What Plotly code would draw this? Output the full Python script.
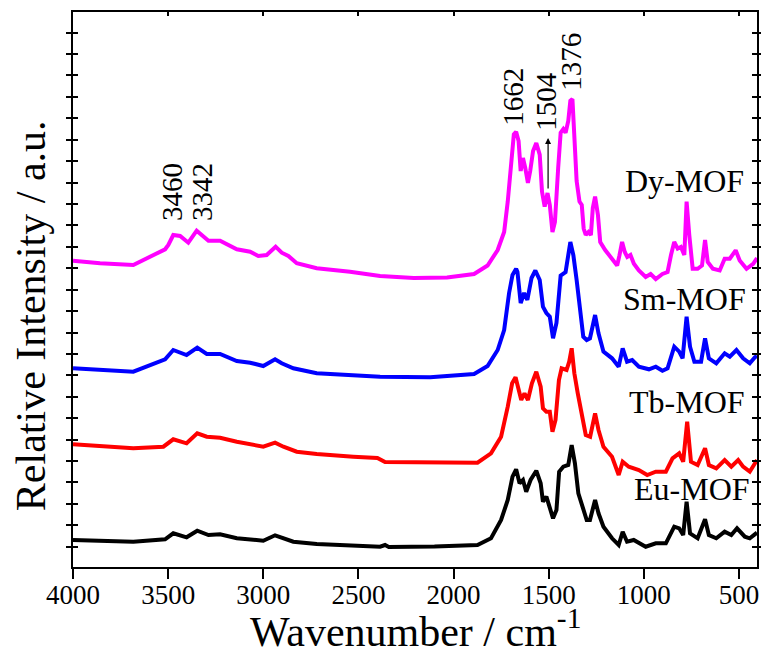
import plotly.graph_objects as go

# ---------------- data ----------------
eu_w = [4000, 3683, 3516, 3473, 3403, 3347, 3288, 3227, 3139, 3000, 2938, 2842, 2719, 2386, 2360, 2340, 2100,
        1874, 1803, 1750, 1715, 1690, 1671, 1653, 1635, 1618, 1595, 1565, 1542, 1530, 1512, 1494, 1477,
        1459, 1445, 1423, 1397, 1379, 1362, 1344, 1318, 1300, 1283, 1256, 1238, 1212, 1167, 1132, 1111,
        1088, 1053, 990, 937, 884, 840, 814, 793, 775, 757, 717, 678, 658, 619, 575, 540, 510, 469, 443, 405]
eu_v = [27, 25.3, 27.7, 33.7, 29.7, 36.3, 32, 32.7, 28.7, 26.3, 31.7, 25.3, 23, 20.3, 22, 20, 20.5,
        22, 28.7, 47, 67, 90.3, 97.7, 83.7, 87, 75.3, 87, 96.3, 83.7, 65.3, 70.3, 60.3, 48.7,
        57, 95.3, 100.3, 102, 122, 103.7, 73.7, 57, 47, 47, 67, 53.7, 40.3, 28.7, 22, 35.3,
        25.3, 27, 20.3, 23.7, 23.7, 40.3, 38.7, 32, 65.3, 33.7, 28.7, 47.7, 32, 28.7, 35.3, 32, 38.7, 30.3, 28.7, 34.3]

tb_w = [4000, 3683, 3525, 3473, 3403, 3347, 3297, 3227, 3139, 3000, 2938, 2894, 2824, 2719, 2527, 2400, 2360,
        1874, 1803, 1750, 1715, 1692, 1674, 1658, 1644, 1627, 1609, 1588, 1565, 1542, 1530, 1512, 1494,
        1480, 1464, 1446, 1432, 1406, 1392, 1379, 1365, 1347, 1326, 1305, 1282, 1256, 1238, 1212, 1167,
        1132, 1111, 1079, 1026, 982, 937, 884, 849, 814, 793, 772, 752, 717, 678, 658, 619, 575, 540,
        504, 478, 443, 405]
tb_v = [32.7, 28.7, 30.3, 37.7, 33.7, 43.7, 40.3, 39.3, 35.3, 30.3, 34.3, 30.3, 25.3, 23, 20.3, 19, 15,
        14.3, 23.7, 40.3, 70.3, 93.7, 99.7, 87, 77, 83.7, 77, 93.7, 105.3, 90.3, 68.7, 65.3, 65.3,
        45.3, 57, 97, 108.7, 107, 115.3, 128.7, 103.7, 83.7, 63.7, 42, 40.3, 63.7, 47, 30.3, 20.3,
        2, 15.3, 10.3, 7, 2, 5.3, 5.3, 18.7, 23.7, 15.3, 55.3, 15.3, 12, 28.7, 12, 8.7, 17, 10.3,
        17, 10.3, 5.3, 17]

sm_w = [4000, 3683, 3516, 3473, 3403, 3347, 3297, 3227, 3139, 3069, 3000, 2938, 2903, 2842, 2719, 2386, 2123,
        1892, 1821, 1768, 1734, 1708, 1690, 1671, 1664, 1647, 1629, 1612, 1590, 1570, 1547, 1530, 1512,
        1494, 1477, 1459, 1437, 1411, 1386, 1370, 1353, 1335, 1318, 1300, 1283, 1256, 1238, 1212, 1167,
        1132, 1111, 1088, 1061, 1026, 973, 937, 902, 875, 840, 814, 796, 775, 757, 734, 699, 678, 658,
        619, 575, 548, 513, 478, 443, 416, 405]
sm_v = [28.7, 25.3, 37.7, 47, 42, 49.3, 43, 43, 36, 34.3, 31, 37.7, 33.7, 28.7, 23.7, 20.3, 19.7,
        23, 31, 47, 67, 104, 122, 128.2, 125, 94, 104, 97, 119, 126.5, 117, 90.3, 84,
        80.3, 58.7, 74, 121.4, 125, 155, 141.6, 117, 90.3, 60.3, 57, 58.7, 82, 63.7, 45.3, 38.7,
        30.3, 48.7, 35.3, 37, 30.3, 27.7, 30.3, 26.3, 28.7, 50.3, 45.3, 38.7, 80.3, 50.3, 35.3, 35.3, 58.7, 38.7,
        33.7, 43.7, 40.3, 47, 38.7, 33.7, 39.7, 41]

dy_w = [4000, 3858, 3683, 3595, 3516, 3499, 3473, 3437, 3394, 3350, 3323, 3288, 3227, 3139, 3069, 3026, 2982,
        2935, 2903, 2868, 2824, 2719, 2544, 2386, 2209, 2034, 1892, 1821, 1768, 1734, 1715, 1697, 1683,
        1671, 1658, 1647, 1635, 1623, 1609, 1597, 1582, 1565, 1547, 1535, 1521, 1506, 1494, 1480, 1467,
        1450, 1437, 1423, 1411, 1397, 1386, 1375, 1365, 1353, 1338, 1326, 1316, 1305, 1291, 1278, 1268,
        1256, 1241, 1229, 1203, 1167, 1140, 1128, 1114, 1100, 1087, 1070, 1052, 1026, 990, 964, 937,
        902, 875, 857, 840, 822, 805, 787, 775, 761, 743, 717, 694, 678, 664, 637, 601, 575, 548,
        517, 496, 460, 425, 405]
dy_v = [36.3, 33.7, 32, 40.3, 47.7, 52, 62, 61, 54.3, 66.3, 62, 56.3, 56.3, 47.7, 45.3, 41, 42,
        50.3, 44.3, 41, 33.7, 28.7, 25.3, 21, 19, 19.5, 23, 31.5, 47, 65, 95.4, 129, 162.6,
        165.3, 156, 126, 139, 129, 114, 126, 146, 154, 142.4, 105.5, 90.4, 104, 92, 65, 75,
        129, 164.3, 168, 164.3, 176, 196.2, 198, 163, 116, 95.4, 92, 68.5, 62, 65, 62, 89,
        100.4, 82, 55, 47, 38.3, 31.5, 41.6, 55, 45, 40, 42, 33.2, 26.5, 20, 23, 18,
        23, 25, 42, 55, 48.4, 50, 42, 95.4, 62, 28.2, 28.2, 31.5, 57, 35, 28.2, 26.5, 38.3, 38.3,
        46.7, 36.6, 28.2, 33.2, 39]

series_names = ["Eu-MOF", "Tb-MOF", "Sm-MOF", "Dy-MOF"]
series_w = [eu_w, tb_w, sm_w, dy_w]
series_v = [eu_v, tb_v, sm_v, dy_v]
offsets = [0, 90, 170, 270]
colors = ["#000000", "#FF0000", "#0000FF", "#FF00FF"]

# label anchor positions (wavenumber, a.u.)
label_w = [432, 460, 450, 462]
label_y = [78, 165, 268, 386]

peak_text = ["3460", "3342", "1662", "1504", "1376"]
peak_w = [3480, 3322, 1689, 1518, 1384]
peak_y = [344, 344, 439, 434, 474]

arrow_w = 1503
arrow_from = 377
arrow_to = 429

x_ticks = [4000, 3500, 3000, 2500, 2000, 1500, 1000, 500]

FONT = "Liberation Serif"

fig = go.Figure()
for name, w, v, off, c in zip(series_names, series_w, series_v, offsets, colors):
    fig.add_trace(go.Scatter(x=w, y=[val + off for val in v], mode="lines",
                             line=dict(color=c, width=4), name=name, showlegend=False))

# empty trace to host the top axis
fig.add_trace(go.Scatter(x=[None], y=[None], xaxis="x2", yaxis="y", showlegend=False,
                         hoverinfo="skip"))

for name, w, y in zip(series_names, label_w, label_y):
    fig.add_annotation(x=w, y=y, text=name, showarrow=False, xanchor="right", yanchor="middle",
                       font=dict(family=FONT, size=32, color="black"))

for t, w, y in zip(peak_text, peak_w, peak_y):
    fig.add_annotation(x=w, y=y, text=t, showarrow=False, textangle=-90, xanchor="center",
                       yanchor="bottom", font=dict(family=FONT, size=29, color="black"))

fig.add_annotation(x=arrow_w, y=arrow_to, ax=arrow_w, ay=arrow_from, axref="x", ayref="y",
                   text="", showarrow=True, arrowhead=2, arrowsize=1, arrowwidth=1.2,
                   arrowcolor="black")

# axis titles
fig.add_annotation(xref="paper", yref="paper", x=0.5, y=-0.163, text="Wavenumber / cm<sup>-1</sup>",
                   showarrow=False, xanchor="center", yanchor="bottom",
                   font=dict(family=FONT, size=42, color="black"))
fig.add_annotation(xref="paper", yref="paper", x=-0.0614, y=0.452, text="Relative Intensity / a.u.",
                   showarrow=False, textangle=-90, xanchor="center", yanchor="middle",
                   font=dict(family=FONT, size=42, color="black"))

fig.update_layout(
    width=761, height=659,
    margin=dict(l=73, r=4, t=12, b=92),
    paper_bgcolor="white", plot_bgcolor="white",
    xaxis=dict(range=[4000, 405], tickvals=x_ticks, ticks="outside", ticklen=10, tickwidth=2,
               tickcolor="black", showline=True, linewidth=2, linecolor="black", mirror=True,
               showgrid=False, zeroline=False, automargin=False, ticklabelstandoff=-7,
               tickfont=dict(family=FONT, size=27, color="black")),
    xaxis2=dict(range=[4000, 405], overlaying="x", side="top", tickvals=x_ticks, ticks="inside",
                ticklen=4, tickwidth=1.5, tickcolor="black", showticklabels=False, showline=False,
                showgrid=False, zeroline=False, automargin=False),
    yaxis=dict(range=[0, 555], tick0=20.3, dtick=21.42, ticks="inside", ticklen=5, tickwidth=1.5,
               tickcolor="black", showticklabels=False, showline=True, linewidth=2, linecolor="black",
               mirror="allticks", showgrid=False, zeroline=False, automargin=False),
)

fig.write_html("out.html", config={"displayModeBar": False},
               post_script="document.body.style.margin='0';")
